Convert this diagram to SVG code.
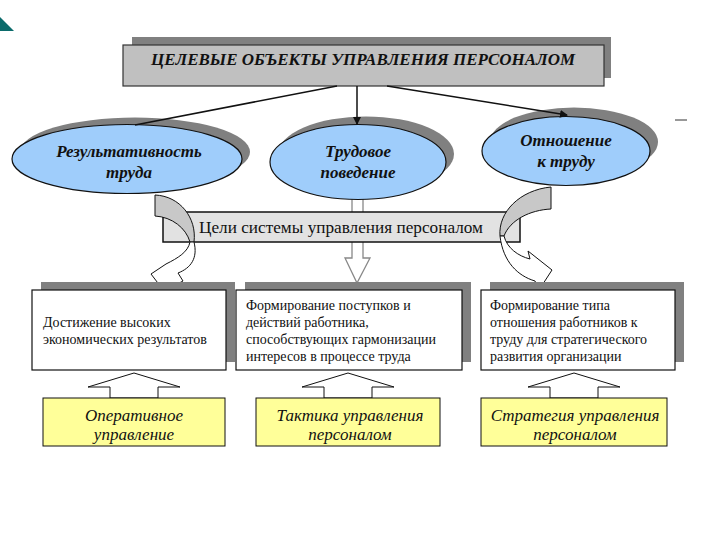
<svg xmlns="http://www.w3.org/2000/svg" width="720" height="540" viewBox="0 0 720 540">
<defs>
<style>
.sh{fill:#808080;stroke:none}
.ell{fill:#9fcdfb;stroke:#111;stroke-width:1.2}
.box{fill:#fff;stroke:#111;stroke-width:1.2}
.ybox{fill:#ffff99;stroke:#111;stroke-width:1}
.upar{fill:#fff;stroke:#111;stroke-width:1}
.etxt{font-family:"Liberation Serif",serif;font-weight:bold;font-style:italic;font-size:17px;fill:#111;text-anchor:middle}
.btxt{font-family:"Liberation Serif",serif;font-size:14px;fill:#111}
.ytxt{font-family:"Liberation Serif",serif;font-style:italic;font-size:17px;fill:#111;text-anchor:middle}
.conn{stroke:#111;stroke-width:1.5;fill:none}
.curvg{fill:#c8c8c8;stroke:#111;stroke-width:1}
.curvw{fill:#fff;stroke:#111;stroke-width:1}
</style>
<marker id="ah" markerWidth="8" markerHeight="8" refX="7" refY="4" orient="auto" markerUnits="userSpaceOnUse">
<path d="M0,0 L8,4 L0,8 Z" fill="#111"/>
</marker>
</defs>
<rect width="720" height="540" fill="#fff"/>
<polygon points="0,17 14,31 0,31" fill="#0b6b6b"/>
<line x1="675" y1="120" x2="687" y2="120" stroke="#333" stroke-width="1"/>

<g id="title">
<rect class="sh" x="132" y="37" width="479" height="41"/>
<rect x="123" y="45" width="481" height="41" fill="#c0c0c0" stroke="#333" stroke-width="1.2"/>
<text x="363" y="65" font-family="Liberation Serif,serif" font-weight="bold" font-style="italic" font-size="16" fill="#111" text-anchor="middle" textLength="424" lengthAdjust="spacingAndGlyphs">ЦЕЛЕВЫЕ ОБЪЕКТЫ УПРАВЛЕНИЯ ПЕРСОНАЛОМ</text>
</g>

<g id="mid-down-arrow">
<polygon points="352,195 352,258 345,258 357,283 370,258 363,258 363,195" fill="#fff" stroke="#888" stroke-width="1.3"/>
</g>

<g id="ell-result">
<ellipse class="sh" cx="135" cy="152" rx="115" ry="34.5"/>
<ellipse class="ell" cx="127" cy="159" rx="115" ry="34.5"/>
<text class="etxt" x="129" y="157">Результативность</text>
<text class="etxt" x="129" y="178">труда</text>
</g>
<g id="ell-behavior">
<ellipse class="sh" cx="366" cy="154" rx="88" ry="37.5"/>
<ellipse class="ell" cx="358" cy="162" rx="88" ry="37.5"/>
<text class="etxt" x="358" y="157">Трудовое</text>
<text class="etxt" x="358" y="178">поведение</text>
</g>
<g id="ell-attitude">
<ellipse class="sh" cx="574" cy="142" rx="84" ry="34.5"/>
<ellipse class="ell" cx="566" cy="151" rx="84" ry="34.5"/>
<text class="etxt" x="566" y="146">Отношение</text>
<text class="etxt" x="566" y="167">к труду</text>
</g>

<g id="connectors">
<line class="conn" x1="337" y1="86" x2="135" y2="125"/>
<line class="conn" x1="357" y1="86" x2="357" y2="124" marker-end="url(#ah)"/>
<line class="conn" x1="387" y1="86" x2="567" y2="115" marker-end="url(#ah)"/>
</g>

<g id="band">
<rect x="163" y="212" width="357" height="30" fill="#e2e2e2" stroke="#111" stroke-width="1.5"/>
<text x="341" y="233" font-family="Liberation Serif,serif" font-size="17" fill="#111" text-anchor="middle" textLength="284" lengthAdjust="spacingAndGlyphs">Цели системы управления персоналом</text>
</g>

<g id="curved-left">
<path class="curvg" d="M155,195 L155,216 C172,217 186,228 190,242 L194,242 C197,218 180,196 155,195 Z"/>
<path class="curvw" d="M194,242 C198,258 191,268 178,273 L183,281 L164,291 L151,274 L166,264 C178,258 188,252 190,242 Z"/>
</g>
<g id="curved-right">
<path class="curvg" d="M551,187 L551,209 C530,210 510,220 504,236 L500,236 C498,212 520,190 551,187 Z"/>
<path class="curvw" d="M500,236 C503,262 518,276 535,281 L539,290 L552,270 L528,251 L530,259 C518,256 507,248 504,236 Z"/>
</g>

<g id="box-results">
<rect class="sh" x="41" y="282" width="194" height="80"/>
<rect class="box" x="32" y="290" width="194" height="80"/>
<text class="btxt" x="43" y="327">Достижение высоких</text>
<text class="btxt" x="43" y="344">экономических результатов</text>
</g>
<g id="box-behavior">
<rect class="sh" x="245" y="282" width="226" height="80"/>
<rect class="box" x="236" y="290" width="226" height="80"/>
<text class="btxt" x="246" y="310">Формирование поступков и</text>
<text class="btxt" x="246" y="327">действий работника,</text>
<text class="btxt" x="246" y="344">способствующих гармонизации</text>
<text class="btxt" x="246" y="361">интересов в процессе труда</text>
</g>
<g id="box-attitude">
<rect class="sh" x="490" y="282" width="194" height="80"/>
<rect class="box" x="481" y="290" width="194" height="80"/>
<text class="btxt" x="490" y="310">Формирование типа</text>
<text class="btxt" x="490" y="327">отношения работников к</text>
<text class="btxt" x="490" y="344">труду для стратегического</text>
<text class="btxt" x="490" y="361">развития организации</text>
</g>

<g id="up-arrows">
<polygon class="upar" points="110,398 110,387 88,387 134,373 180,387 158,387 158,398"/>
<polygon class="upar" points="324,398 324,387 302,387 348,373 394,387 372,387 372,398"/>
<polygon class="upar" points="550,398 550,387 528,387 574,373 620,387 598,387 598,398"/>
</g>

<g id="y-operative">
<rect class="ybox" x="43" y="398" width="182" height="48"/>
<text class="ytxt" x="134" y="421">Оперативное</text>
<text class="ytxt" x="134" y="440">управление</text>
</g>
<g id="y-tactics">
<rect class="ybox" x="256" y="398" width="184" height="48"/>
<text class="ytxt" x="350" y="421">Тактика управления</text>
<text class="ytxt" x="350" y="440">персоналом</text>
</g>
<g id="y-strategy">
<rect class="ybox" x="481" y="398" width="186" height="48"/>
<text class="ytxt" x="575" y="421">Стратегия управления</text>
<text class="ytxt" x="575" y="440">персоналом</text>
</g>
</svg>
